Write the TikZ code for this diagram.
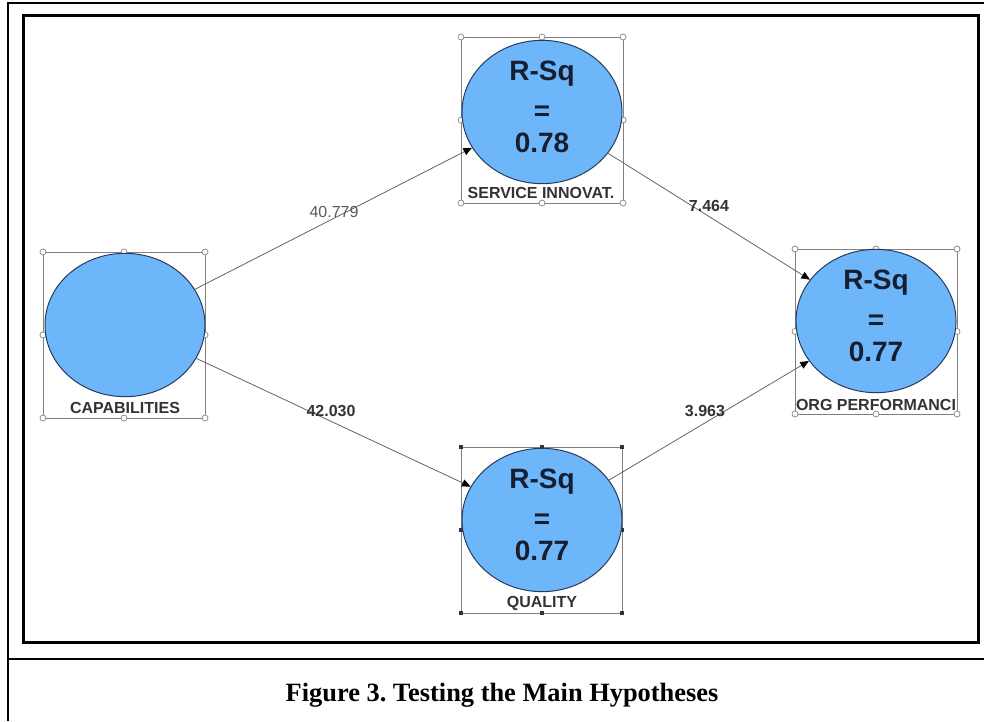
\documentclass[tikz,border=0pt]{standalone}
\usepackage{fontspec}
\setmainfont{Liberation Serif}
\setsansfont{Liberation Sans}
\usetikzlibrary{shapes.geometric,arrows.meta}
\definecolor{lvblue}{RGB}{110,182,250}
\definecolor{lvedge}{RGB}{40,60,90}
\definecolor{lvtext}{RGB}{22,30,48}
\definecolor{conngray}{RGB}{100,100,100}
\tikzset{
  lv/.style={ellipse, draw=lvedge, line width=0.75pt, fill=lvblue, inner sep=0pt,
    minimum width=120pt, minimum height=107.5pt},
  rsq/.style={font=\sffamily\bfseries\fontsize{21}{27}\selectfont, text=lvtext, align=center, inner sep=0pt},
  lvlabel/.style={font=\sffamily\bfseries\fontsize{12}{13}\selectfont, text=black!80, inner sep=0pt},
  conn/.style={draw=conngray, line width=0.6pt, -{Triangle[length=6.5pt,width=5.5pt,color=black]}},
  coefreg/.style={font=\sffamily\fontsize{12}{13}\selectfont, text=black!65, inner sep=0pt},
  coefbold/.style={font=\sffamily\bfseries\fontsize{12}{13}\selectfont, text=black!80, inner sep=0pt},
  selbox/.style={draw=gray, line width=0.6pt},
  openhandle/.style={circle, draw=gray, fill=white, inner sep=0pt, minimum size=4.5pt, line width=0.5pt},
  solidhandle/.style={rectangle, fill=black!80, inner sep=0pt, minimum size=3pt},
  caption/.style={font=\rmfamily\bfseries\fontsize{19.8}{22}\selectfont\frenchspacing, inner sep=0pt}
}
\begin{document}
\begin{tikzpicture}[x=0.75pt,y=-0.75pt]
\useasboundingbox (0,0) rectangle (984,721);
% frames
\draw[line width=1.5pt] (8,721) -- (8,3) -- (984,3);
\draw[line width=1.5pt] (8,659) -- (984,659);
\draw[line width=2.25pt] (23,15) rectangle (978,642);
% selection boxes with handles
\foreach \xa/\ya/\xb/\yb/\hs/\nm in {43/252/205/418/openhandle/cap,461/37/623/203/openhandle/si,795/249/957/414/openhandle/org,461/447/622/613/solidhandle/q}{
  \draw[selbox] (\xa,\ya) rectangle (\xb,\yb);
  \pgfmathsetmacro\xm{(\xa+\xb)/2}
  \pgfmathsetmacro\ym{(\ya+\yb)/2}
  \foreach \hx/\hy [count=\k] in {\xa/\ya,\xm/\ya,\xb/\ya,\xb/\ym,\xb/\yb,\xm/\yb,\xa/\yb,\xa/\ym}
    \node[\hs] (h\nm\k) at (\hx,\hy) {};
}
% latent variables
\node[lv] (cap) at (125,325) {};
\node[lv] (si) at (542,112) {};
\node[lv] (org) at (876,321) {};
\node[lv] (q) at (542,520) {};
% R-square texts
\node[rsq] (sitext) at (542,107) {R-Sq\\[3pt]=\\[-3pt]0.78};
\node[rsq] (orgtext) at (876,316) {R-Sq\\[3pt]=\\[-3pt]0.77};
\node[rsq] (qtext) at (542,515) {R-Sq\\[3pt]=\\[-3pt]0.77};
% labels
\node[lvlabel] (caplabel) at (125,408) {CAPABILITIES};
\node[lvlabel] (silabel) at (541,193) {SERVICE INNOVAT.};
\node[lvlabel] (orglabel) at (876,405) {ORG PERFORMANCI};
\node[lvlabel] (qlabel) at (542,603) {QUALITY};
% connectors
\draw[conn] (cap) -- (si);
\draw[conn] (cap) -- (q);
\draw[conn] (si) -- (org);
\draw[conn] (q) -- (org);
% coefficients
\node[coefreg] (c1) at (334,212) {40.779};
\node[coefbold] (c2) at (331,411) {42.030};
\node[coefbold] (c3) at (709,206) {7.464};
\node[coefbold] (c4) at (705,411) {3.963};
% caption
\node[caption] (cap3) at (502,695) {Figure 3. Testing the Main Hypotheses};
\end{tikzpicture}
\end{document}
